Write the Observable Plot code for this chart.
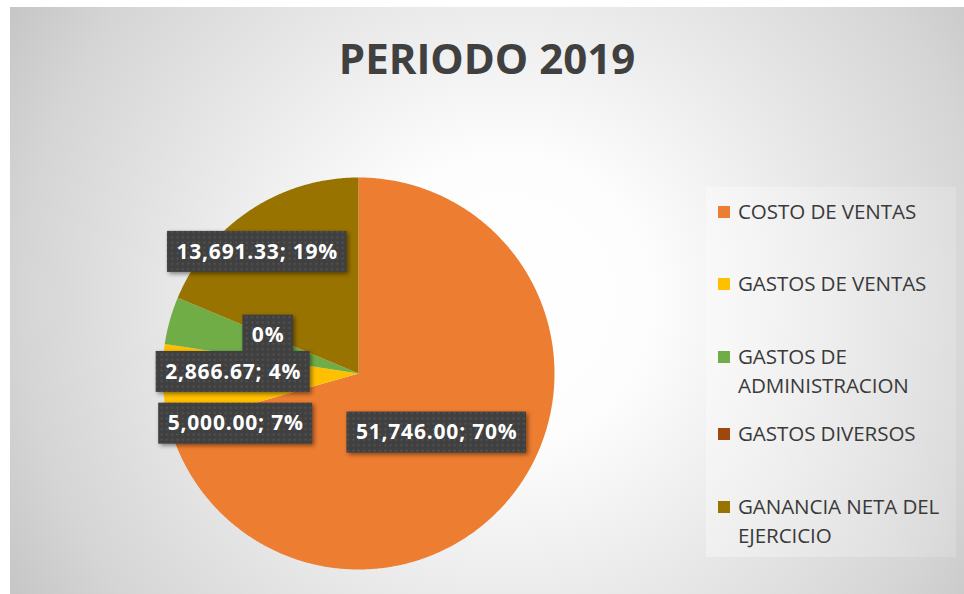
<!DOCTYPE html>
<html>
<head>
<meta charset="utf-8">
<script src="https://cdn.jsdelivr.net/npm/d3@7"></script>
<script src="https://cdn.jsdelivr.net/npm/@observablehq/plot@0.6"></script>
<style>
  html, body { margin: 0; padding: 0; background: #ffffff; width: 964px; height: 594px; overflow: hidden; }
  #chart {
    position: absolute; left: 10px; top: 7px; width: 954px; height: 587px;
    background: radial-gradient(circle farthest-corner at 52% 50%, #ffffff 0%, #fdfdfd 25%, #ececec 50%, #d5d5d5 84%, #c6c6c6 100%);
    font-family: "Open Sans", sans-serif;
  }
  #title {
    position: absolute; left: 0; top: 0; width: 954px; height: 100px;
    display: flex; align-items: center; justify-content: center;
    font-family: "Open Sans", sans-serif; font-weight: 700; font-size: 42px; color: #404040;
  }
  #plot { position: absolute; left: 0; top: 100px; }
  #legend {
    position: absolute; left: 696px; top: 180px; width: 250px; height: 370px;
    background: linear-gradient(to right, rgba(255,255,255,0.35), rgba(255,255,255,0.15));
    box-sizing: border-box; padding-top: 10px;
  }
  .item { display: flex; align-items: flex-start; padding-left: 12px; }
  .item:nth-child(1) { height: 72px; }
  .item:nth-child(2) { height: 73px; }
  .item:nth-child(3) { height: 77px; }
  .item:nth-child(4) { height: 73px; }
  .sw { width: 12px; height: 12px; margin-top: 8.5px; margin-right: 8px; flex: none; }
  .lt { font-size: 20.6px; line-height: 29px; color: #3a3a3a; width: 226px; letter-spacing: -0.1px; }
</style>
</head>
<body>
<div id="chart">
  <div id="title"></div>
  <div id="plot"></div>
  <div id="legend"></div>
</div>
<script>
// ---- data ----
const chartTitle = "PERIODO 2019";
const categories = ["COSTO DE VENTAS", "GASTOS DE VENTAS", "GASTOS DE ADMINISTRACION", "GASTOS DIVERSOS", "GANANCIA NETA DEL EJERCICIO"];
const values = [51746.00, 5000.00, 2866.67, 0, 13691.33];
const colors = ["#ED7D31", "#FFC000", "#70AD47", "#9E480E", "#997300"];
// label nudges (pixels) away from the slice centroid, mimicking Excel's best-fit placement
const labelNudge = [[0, 0], [-25, 44], [-31, 25], [0, 0], [-47, -40]];

// ---- layout ----
const W = 954, H = 487;
const mL = 152, mR = 410, mT = 70, mB = 25;
const R = (W - mL - mR) / 2; // pixel radius

document.getElementById("title").textContent = chartTitle;

const total = d3.sum(values);
const arcs = d3.pie().sort(null).value(d => d)(values);

// percentages rounded so they sum to 100 (largest remainder, as Excel does)
const raw = values.map(v => v / total * 100);
const pcts = raw.map(Math.floor);
let left = 100 - d3.sum(pcts);
d3.range(values.length).sort((a, b) => (raw[b] - pcts[b]) - (raw[a] - pcts[a]))
  .forEach(i => { if (left > 0 && values[i] > 0) { pcts[i]++; left--; } });

// slice polygons in unit-circle coordinates (y up)
const slicePts = [];
arcs.forEach((a, i) => {
  if (a.endAngle - a.startAngle <= 0) return;
  const n = Math.max(2, Math.ceil((a.endAngle - a.startAngle) / (Math.PI / 360)));
  slicePts.push({key: categories[i], x: 0, y: 0});
  for (let k = 0; k <= n; k++) {
    const t = a.startAngle + (a.endAngle - a.startAngle) * k / n;
    slicePts.push({key: categories[i], x: Math.sin(t), y: Math.cos(t)});
  }
  slicePts.push({key: categories[i], x: 0, y: 0});
});

// labels
const fmt = d3.format(",.2f");
const ctx = document.createElement("canvas").getContext("2d");
ctx.font = "700 21px 'Open Sans'";
const padX = 9, halfH = 20.5;
const labels = arcs.map((a, i) => {
  const pct = pcts[i] + "%";
  const text = values[i] === 0 ? pct : fmt(values[i]) + "; " + pct;
  const mid = (a.startAngle + a.endAngle) / 2;
  const cx = 0.5 * Math.sin(mid) + labelNudge[i][0] / R;
  const cy = 0.5 * Math.cos(mid) - labelNudge[i][1] / R;
  const w = ctx.measureText(text).width + text.length * 0.8;
  const hw = (w / 2 + padX) / R;
  return {text, x: cx, y: cy, x1: cx - hw, x2: cx + hw, y1: cy - halfH / R, y2: cy + halfH / R};
});

const plot = Plot.plot({
  width: W, height: H,
  marginLeft: mL, marginRight: mR, marginTop: mT, marginBottom: mB,
  x: {domain: [-1, 1], axis: null},
  y: {domain: [-1, 1], axis: null},
  color: {domain: categories, range: colors},
  style: {background: "transparent", overflow: "visible"},
  marks: [
    Plot.line(slicePts, {x: "x", y: "y", z: "key", fill: "key", stroke: "none", curve: "linear"}),
    Plot.rect(labels, {x1: "x1", x2: "x2", y1: "y1", y2: "y2", fill: "url(#dots)", className: "lbox"}),
    Plot.text(labels, {x: "x", y: "y", text: "text", fill: "#ffffff", fontSize: 21, fontWeight: 700,
      fontFamily: "Open Sans", className: "ltext"})
  ]
});

// dotted label fill pattern + shadow
const defs = document.createElementNS("http://www.w3.org/2000/svg", "defs");
defs.innerHTML = `<pattern id="dots" width="5.33" height="5.33" patternUnits="userSpaceOnUse">
  <rect width="5.33" height="5.33" fill="#404040"/><rect x="1.5" y="1.5" width="1.6" height="1.6" fill="#5a5a5a"/></pattern>`;
plot.insertBefore(defs, plot.firstChild);
plot.querySelectorAll(".lbox").forEach(g => g.style.filter = "drop-shadow(2px 2px 2px rgba(0,0,0,0.45))");
plot.querySelectorAll(".ltext text").forEach(t => t.style.letterSpacing = "0.8px");
document.getElementById("plot").appendChild(plot);

// legend
const colorScale = plot.scale("color");
const legend = document.getElementById("legend");
colorScale.domain.forEach((c, i) => {
  const item = document.createElement("div");
  item.className = "item";
  const sw = document.createElement("div");
  sw.className = "sw";
  sw.style.background = colorScale.range[i];
  const lt = document.createElement("div");
  lt.className = "lt";
  lt.textContent = c;
  item.appendChild(sw); item.appendChild(lt);
  legend.appendChild(item);
});
</script>
</body>
</html>
